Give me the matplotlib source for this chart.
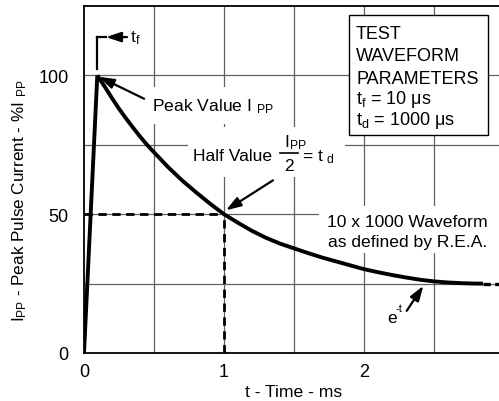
import matplotlib
matplotlib.use("Agg")
import matplotlib.pyplot as plt
from matplotlib.patches import Rectangle

plt.rcParams['font.family'] = ['Liberation Sans', 'DejaVu Sans']
plt.rcParams['mathtext.fontset'] = 'custom'
plt.rcParams['mathtext.rm'] = 'Liberation Sans'
plt.rcParams['mathtext.it'] = 'Liberation Sans'
plt.rcParams['mathtext.bf'] = 'Liberation Sans:bold'

# data
rise_t = [0.0, 0.095]
rise_v = [0.0, 100.0]
decay_t = [0.095, 0.15, 0.2, 0.25, 0.3, 0.35, 0.4, 0.45, 0.5, 0.6, 0.7, 0.8, 0.9, 1.0,
           1.1, 1.2, 1.3, 1.4, 1.5, 1.6, 1.7, 1.8, 1.9, 2.0, 2.1, 2.2, 2.3, 2.4, 2.5,
           2.6, 2.7, 2.8, 2.85]
decay_v = [100.0, 95.8, 91.8, 88.0, 84.5, 81.2, 78.0, 75.0, 72.3, 67.0, 62.2, 57.9, 53.8, 50.0,
           46.9, 44.0, 41.5, 39.4, 37.7, 36.0, 34.4, 33.0, 31.6, 30.2, 29.1, 28.1, 27.2, 26.4, 25.8,
           25.4, 25.15, 25.0, 25.0]
tail_t = [2.85, 3.0]
tail_v = [25.0, 25.0]
half_t = 1.0
half_v = 50.0
xticks = [0, 1, 2, 3]
yticks = [0, 50, 100]
xgrid = [0.5, 1.0, 1.5, 2.0, 2.5]
ygrid = [25, 50, 75, 100]

fig = plt.figure(figsize=(4.99, 4.02), dpi=100)
ax = fig.add_axes([84/499, 48/402, 420/499, 347/402])
ax.set_xlim(0, 3)
ax.set_ylim(0, 125)

gc = '#606060'
for g in xgrid:
    ax.axvline(g, color=gc, lw=0.9, zorder=1)
for g in ygrid:
    ax.axhline(g, color=gc, lw=0.9, zorder=1)

ax.plot(rise_t, rise_v, color='black', lw=2.8, zorder=5, solid_capstyle='butt',
        solid_joinstyle='round')
ax.plot(decay_t, decay_v, color='black', lw=2.8, zorder=5, solid_capstyle='butt',
        solid_joinstyle='round')
ax.plot(tail_t, tail_v, color='black', lw=2.4, ls=(0, (2.2, 1.3)), zorder=5)
ax.plot([0, half_t], [half_v, half_v], color='black', lw=2.0, ls=(0, (3, 2)), zorder=4)
ax.plot([half_t, half_t], [0, half_v], color='black', lw=2.0, ls=(0, (3, 2)), zorder=4)

ax.set_xticks(xticks)
ax.set_yticks(yticks)
ax.tick_params(length=0, labelsize=13, colors='black')
ax.tick_params(axis='y', pad=11)
ax.tick_params(axis='x', pad=7)
for s in ax.spines.values():
    s.set_linewidth(1.3)

ax.set_xlabel('t - Time - ms', fontsize=12.6, labelpad=3)
fig.text(20/499, 0.50, r'I$_\mathregular{PP}$ - Peak Pulse Current - %I $_\mathregular{PP}$',
         rotation=90, ha='center', va='center', fontsize=12.3)

fs = 12.6
arr = dict(arrowstyle='-|>,head_length=0.9,head_width=0.3', color='black', lw=1.6,
           shrinkA=0, shrinkB=0)


def blank(t0, t1, v0, v1):
    ax.add_patch(Rectangle((t0, v0), t1 - t0, v1 - v0, facecolor='white',
                           edgecolor='none', zorder=2))


# t_f marker
ax.plot([0.095, 0.095], [102.2, 113.8], color='black', lw=1.6, zorder=6)
ax.plot([0.095, 0.16], [113.8, 113.8], color='black', lw=1.6, zorder=6)
ax.annotate('', xy=(0.157, 113.8), xytext=(0.307, 113.8), arrowprops=arr, zorder=6)
ax.text(0.33, 113.8, r'$\mathregular{t_f}$', fontsize=fs, va='center', ha='left', zorder=7)

# peak value
blank(0.457, 1.343, 82.4, 95.7)
ax.annotate('', xy=(0.107, 99.5), xytext=(0.429, 91.6), arrowprops=arr, zorder=6)
ax.text(0.486, 87.4, r'Peak Value I $_\mathregular{PP}$', fontsize=fs, va='baseline',
        ha='left', zorder=7)

# half value with fraction
blank(0.743, 1.864, 63.3, 81.3)
ax.text(0.779, 69.4, 'Half Value', fontsize=fs, va='baseline', ha='left', zorder=7)
ax.text(1.425, 74.5, r'I$_\mathregular{PP}$', fontsize=fs, va='baseline', ha='left', zorder=7)
ax.plot([1.40, 1.529], [71.9, 71.9], color='black', lw=1.2, zorder=7)
ax.text(1.464, 66.0, '2', fontsize=fs, va='baseline', ha='center', zorder=7)
ax.text(1.56, 69.4, r'= t $_\mathregular{d}$', fontsize=fs, va='baseline', ha='left', zorder=7)
ax.annotate('', xy=(1.014, 51.4), xytext=(1.35, 62.2), arrowprops=arr, zorder=6)

# parameter box
ax.add_patch(Rectangle((1.893, 78.4), 0.993, 43.2, facecolor='white', edgecolor='black',
                       lw=1.0, zorder=7))
box_lines = ['TEST', 'WAVEFORM', 'PARAMETERS',
             r't$_\mathregular{f}$ = 10 μs', r't$_\mathregular{d}$ = 1000 μs']
box_base = [113.3, 105.5, 97.4, 89.9, 82.4]
for s, v in zip(box_lines, box_base):
    ax.text(1.943, v, s, fontsize=13, va='baseline', ha='left', zorder=8)

# waveform label
blank(1.679, 3.1, 36.0, 52.9)
ax.text(2.31, 45.8, '10 x 1000 Waveform', fontsize=fs, ha='center', va='baseline', zorder=7)
ax.text(2.31, 38.6, 'as defined by R.E.A.', fontsize=fs, ha='center', va='baseline', zorder=7)

# e^-t
ax.text(2.164, 11.2, 'e', fontsize=fs, va='baseline', ha='left', zorder=7)
ax.text(2.222, 15.0, '-t', fontsize=8, va='baseline', ha='left', zorder=7)
ax.annotate('', xy=(2.424, 24.2), xytext=(2.305, 15.2), arrowprops=arr, zorder=6)

fig.savefig('out.png', dpi=100)
